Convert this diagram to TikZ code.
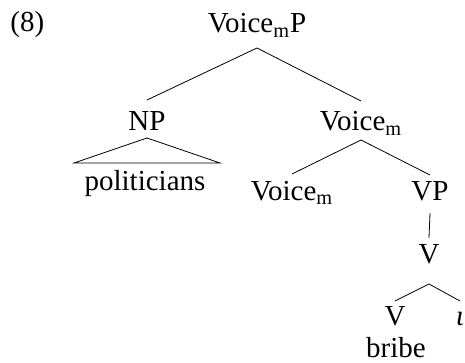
\documentclass[tikz,border=0pt]{standalone}
\usepackage{fontspec}
\setmainfont{Liberation Serif}
\tikzset{lbl/.style={anchor=base,inner sep=0pt,font=\fontsize{14.5}{17}\selectfont}}

\begin{document}
\begin{tikzpicture}[x=0.5pt,y=-0.5pt]
\useasboundingbox (0,0) rectangle (465,363);
\node[lbl,anchor=base west] (ex) at (10,32) {(8)};
\node[lbl] (vmp) at (257,33) {Voice\textsubscript{m}P};
\node[lbl] (np) at (147,131) {NP};
\node[lbl] (vm1) at (361,131) {Voice\textsubscript{m}};
\node[lbl] (pol) at (145,191) {politicians};
\node[lbl] (vm2) at (292,200) {Voice\textsubscript{m}};
\node[lbl] (vp) at (430,200) {VP};
\node[lbl] (v1) at (429,263) {V};
\node[lbl] (v2) at (395,325) {V};
\node[lbl] (iota) at (460,325) {\textit{ι}};
\node[lbl] (bribe) at (396,357) {bribe};


\draw ([yshift=-7.5pt]vmp.base) to ([yshift=15.5pt]np.base);
\draw ([yshift=-7.5pt]vmp.base) to ([yshift=15pt]vm1.base);
\draw ([yshift=-3.5pt]np.base) -- ++(-73,25) -- ++(146,0) -- cycle;
\draw ([yshift=-4.5pt]vm1.base) to ([yshift=13pt]vm2.base);
\draw ([yshift=-4.5pt]vm1.base) to ([yshift=12.5pt]vp.base);
\draw ([yshift=-6.5pt]vp.base) to ([yshift=12.5pt]v1.base);
\draw ([yshift=-10.5pt]v1.base) to ([yshift=12pt]v2.base);
\draw ([yshift=-10.5pt]v1.base) to ([yshift=12pt]iota.base);

\end{tikzpicture}
\end{document}
